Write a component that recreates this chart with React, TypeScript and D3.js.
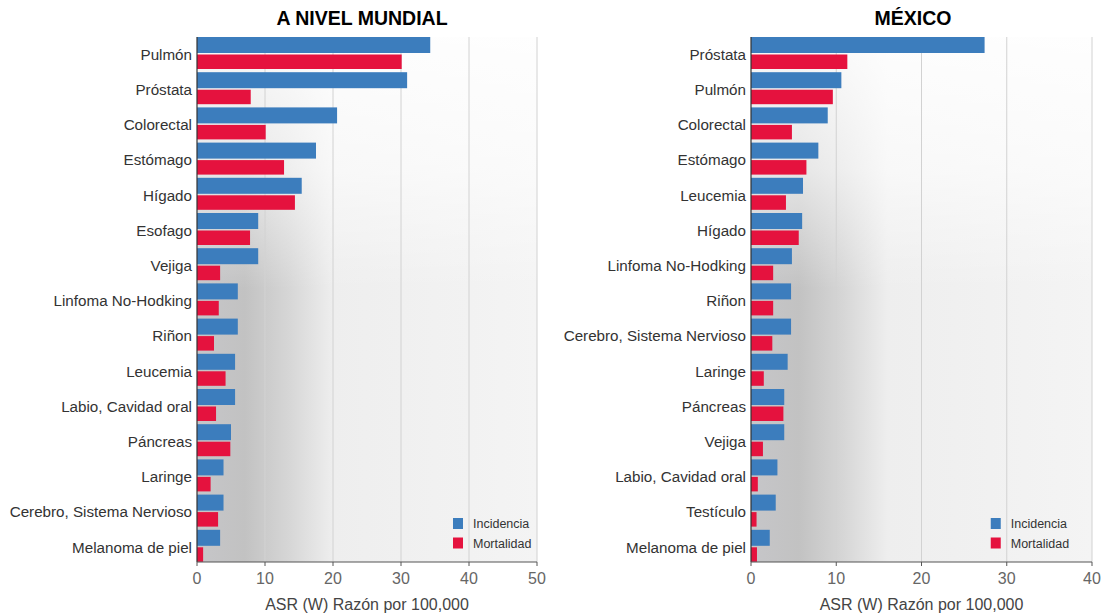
import React from "react";
import * as d3 from "d3";

const worldCategories = [
  "Pulmón", "Próstata", "Colorectal", "Estómago", "Hígado", "Esofago", "Vejiga",
  "Linfoma No-Hodking", "Riñon", "Leucemia", "Labio, Cavidad oral", "Páncreas",
  "Laringe", "Cerebro, Sistema Nervioso", "Melanoma de piel",
];
const worldIncidence = [34.3, 30.9, 20.6, 17.5, 15.4, 9.0, 9.0, 6.0, 6.0, 5.6, 5.6, 5.0, 3.9, 3.9, 3.4];
const worldMortality = [30.1, 7.9, 10.1, 12.8, 14.4, 7.8, 3.4, 3.2, 2.5, 4.2, 2.8, 4.9, 2.0, 3.1, 0.9];
const worldTicks = [0, 10, 20, 30, 40, 50];

const mexicoCategories = [
  "Próstata", "Pulmón", "Colorectal", "Estómago", "Leucemia", "Hígado",
  "Linfoma No-Hodking", "Riñon", "Cerebro, Sistema Nervioso", "Laringe",
  "Páncreas", "Vejiga", "Labio, Cavidad oral", "Testículo", "Melanoma de piel",
];
const mexicoIncidence = [27.4, 10.6, 9.0, 7.9, 6.1, 6.0, 4.8, 4.7, 4.7, 4.3, 3.9, 3.9, 3.1, 2.9, 2.2];
const mexicoMortality = [11.3, 9.6, 4.8, 6.5, 4.1, 5.6, 2.6, 2.6, 2.5, 1.5, 3.8, 1.4, 0.8, 0.65, 0.7];
const mexicoTicks = [0, 10, 20, 30, 40];

const seriesNames = ["Incidencia", "Mortalidad"];
const seriesColors = ["#3c7dbd", "#e5123e"];
const axisTitle = "ASR (W) Razón por 100,000";

const FONT = "'Liberation Sans', Arial, sans-serif";

type PanelProps = {
  id: string;
  title: string;
  categories: string[];
  incidence: number[];
  mortality: number[];
  ticks: number[];
  left: number;
  right: number;
  titleX: number;
};

function Panel({ id, title, categories, incidence, mortality, ticks, left, right, titleX }: PanelProps) {
  const top = 37;
  const bottom = 562;
  const x = d3.scaleLinear().domain([0, ticks[ticks.length - 1]]).range([left, right]);
  const y = d3.scaleBand<string>().domain(categories).range([top, top + 35.2 * categories.length]).padding(0);
  const w = right - left;
  const legendX = x(ticks[ticks.length - 2]) - 16;
  return (
    <g>
      <defs>
        <linearGradient id={`h-${id}`} x1="0" y1="0" x2="1" y2="0">
          <stop offset="0" stopColor="#c6c6c9" />
          <stop offset="0.14" stopColor="#c2c2c2" />
          <stop offset="0.27" stopColor="#d6d6d6" />
          <stop offset="0.40" stopColor="#eeeeee" />
          <stop offset="1" stopColor="#f4f4f4" />
        </linearGradient>
        <linearGradient id={`v-${id}`} x1="0" y1="0" x2="0" y2="1">
          <stop offset="0" stopColor="#ffffff" stopOpacity="0.9" />
          <stop offset="0.25" stopColor="#ffffff" stopOpacity="0.6" />
          <stop offset="0.48" stopColor="#ffffff" stopOpacity="0" />
          <stop offset="1" stopColor="#ffffff" stopOpacity="0" />
        </linearGradient>
      </defs>
      <rect x={left} y={top} width={w} height={bottom - top} fill={`url(#h-${id})`} />
      <rect x={left} y={top} width={w} height={bottom - top} fill={`url(#v-${id})`} />
      {ticks.slice(1).map((t) => (
        <line key={t} x1={x(t)} x2={x(t)} y1={top} y2={bottom} stroke="#d2d2d2" strokeWidth={1} />
      ))}
      <text x={titleX} y={25} textAnchor="middle" fontFamily={FONT} fontWeight="bold" fontSize={19.5} fill="#000">
        {title}
      </text>
      {categories.map((c, i) => {
        const b = y(c)!;
        return (
          <g key={c}>
            <rect x={x(0)} y={b} width={x(incidence[i]) - x(0)} height={16} fill={seriesColors[0]} />
            <rect x={x(0)} y={b + 17.5} width={x(mortality[i]) - x(0)} height={14.5} fill={seriesColors[1]} />
            <text x={left - 5} y={b + 17.5} dy="0.35em" textAnchor="end" fontFamily={FONT} fontSize={15.2} fill="#333">
              {c}
            </text>
          </g>
        );
      })}
      <line x1={left} x2={left} y1={top} y2={bottom} stroke="#333" strokeWidth={1.2} />
      <line x1={left} x2={right} y1={bottom} y2={bottom} stroke="#555" strokeWidth={1.2} />
      {ticks.map((t) => (
        <g key={t}>
          <line x1={x(t)} x2={x(t)} y1={bottom} y2={bottom + 4} stroke="#555" />
          <text x={x(t)} y={578} dy="0.35em" textAnchor="middle" fontFamily={FONT} fontSize={16} fill="#666">
            {t}
          </text>
        </g>
      ))}
      <text x={(left + right) / 2} y={604} dy="0.35em" textAnchor="middle" fontFamily={FONT} fontSize={16} fill="#444">
        {axisTitle}
      </text>
      {seriesNames.map((s, i) => (
        <g key={s}>
          <rect x={legendX} y={518 + i * 19.5} width={10} height={11} fill={seriesColors[i]} />
          <text x={legendX + 20} y={524 + i * 19.5} dy="0.35em" fontFamily={FONT} fontSize={12.5} fill="#333">
            {s}
          </text>
        </g>
      ))}
    </g>
  );
}

export default function App() {
  return (
    <svg width={1102} height={613} style={{ position: "absolute", left: 0, top: 0, background: "#fff" }}>
      <rect x={0} y={0} width={1102} height={613} fill="#fff" />
      <Panel
        id="w"
        title="A NIVEL MUNDIAL"
        categories={worldCategories}
        incidence={worldIncidence}
        mortality={worldMortality}
        ticks={worldTicks}
        left={197}
        right={537}
        titleX={362}
      />
      <Panel
        id="m"
        title="MÉXICO"
        categories={mexicoCategories}
        incidence={mexicoIncidence}
        mortality={mexicoMortality}
        ticks={mexicoTicks}
        left={751}
        right={1092}
        titleX={913}
      />
    </svg>
  );
}
